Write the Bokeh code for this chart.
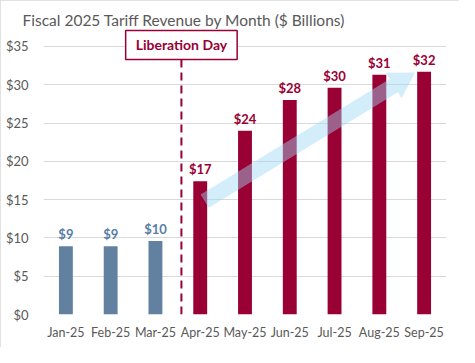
import numpy as np
from bokeh.plotting import figure
from bokeh.models import Label, FactorRange, Range1d, NumeralTickFormatter, FixedTicker
from bokeh.core.properties import value
from bokeh.embed import file_html
from bokeh.resources import INLINE

# ---- data ----
months = ["Jan-25", "Feb-25", "Mar-25", "Apr-25", "May-25", "Jun-25", "Jul-25", "Aug-25", "Sep-25"]
revenue = [8.9, 8.9, 9.6, 17.4, 24.0, 28.0, 29.6, 31.3, 31.7]
value_labels = ["$9", "$9", "$10", "$17", "$24", "$28", "$30", "$31", "$32"]
y_ticks = [0, 5, 10, 15, 20, 25, 30, 35]
liberation_pos = 3.08      # just after the Mar-25 / Apr-25 boundary
arrow_tail = (3.6, 14.8)   # trend arrow, in (category position, $B)
arrow_tip = (8.3, 31.6)

CRIMSON = "#990033"
STEEL = "#62809F"
STEEL_TXT = "#5A7DA6"
GREY = "#595959"
FONT = "Lato"

bar_colors = [STEEL if i < 3 else CRIMSON for i in range(len(months))]
txt_colors = [STEEL_TXT if i < 3 else CRIMSON for i in range(len(months))]

W, H = 459, 347
BL, BR, BT, BB = 43, 13, 28, 33
y_end = 37.35

p = figure(width=W, height=H, x_range=FactorRange(factors=months, range_padding=0),
           y_range=Range1d(0, y_end), output_backend="svg", toolbar_location=None,
           min_border_left=BL, min_border_right=BR, min_border_top=BT, min_border_bottom=BB,
           title="Fiscal 2025 Tariff Revenue by Month ($ Billions)")
p.styles = {"outline": "1px solid #D9D9D9", "outline-offset": "-1px"}
p.outline_line_color = None
p.background_fill_color = "white"
p.border_fill_color = "white"

p.title.align = "left"
p.title.offset = -21
p.title.text_font = FONT
p.title.text_font_size = "15.5px"
p.title.text_font_style = "normal"
p.title.text_color = GREY
p.title.standoff = 0

p.xgrid.grid_line_color = None
p.ygrid.grid_line_color = "#D9D9D9"
p.ygrid.grid_line_width = 1
p.yaxis.ticker = FixedTicker(ticks=y_ticks)
p.yaxis.formatter = NumeralTickFormatter(format="$0")
for ax in (p.xaxis[0], p.yaxis[0]):
    ax.axis_line_color = None
    ax.major_tick_line_color = None
    ax.minor_tick_line_color = None
    ax.major_tick_out = 0
    ax.major_tick_in = 0
    ax.minor_tick_out = 0
    ax.major_label_text_color = GREY
    ax.major_label_text_font = FONT
p.yaxis.major_label_text_font_size = "13px"
p.xaxis.major_label_text_font_size = "12.5px"
p.yaxis.major_label_standoff = 15
p.xaxis.major_label_standoff = 10

p.vbar(x=months, top=revenue, width=0.31, color=bar_colors, line_color=None)

# trend arrow (built in pixel space, converted back to data)
fw = W - BL - BR
fh = H - BT - BB
sx = fw / len(months)
sy = fh / y_end
tx, ty = arrow_tail[0] * sx, arrow_tail[1] * sy
hx, hy = arrow_tip[0] * sx, arrow_tip[1] * sy
d = np.array([hx - tx, hy - ty])
u = d / np.linalg.norm(d)
n = np.array([-u[1], u[0]])
shaft_hw, head_hw, head_len = 7.8, 15.0, 25.0
tail = np.array([tx, ty])
tip = np.array([hx, hy])
neck = tip - u * head_len
pts = [tail + n * shaft_hw, neck + n * shaft_hw, neck + n * head_hw, tip,
       neck - n * head_hw, neck - n * shaft_hw, tail - n * shaft_hw]
p.patch([q[0] / sx for q in pts], [q[1] / sy for q in pts],
        fill_color="#9DD6F5", fill_alpha=0.45, line_color=None)

p.text(x=months, y=revenue, text=value_labels, y_offset=-4, text_align="center",
       text_baseline="bottom", text_color=txt_colors, text_font=value(FONT),
       text_font_style="bold", text_font_size="13px")

p.segment(x0=[liberation_pos], y0=[0], x1=[liberation_pos], y1=[y_end],
          line_color=CRIMSON, line_width=2, line_dash="8 5")

p.add_layout(Label(x=liberation_pos, y=35.2, text="Liberation Day", text_align="center",
                   text_baseline="middle", text_font=FONT, text_font_style="bold",
                   text_font_size="14px", text_color=CRIMSON,
                   background_fill_color="white", border_line_color=CRIMSON,
                   border_line_width=1.5, padding=(10, 6)))

open("out.html", "w").write(file_html(p, INLINE))
